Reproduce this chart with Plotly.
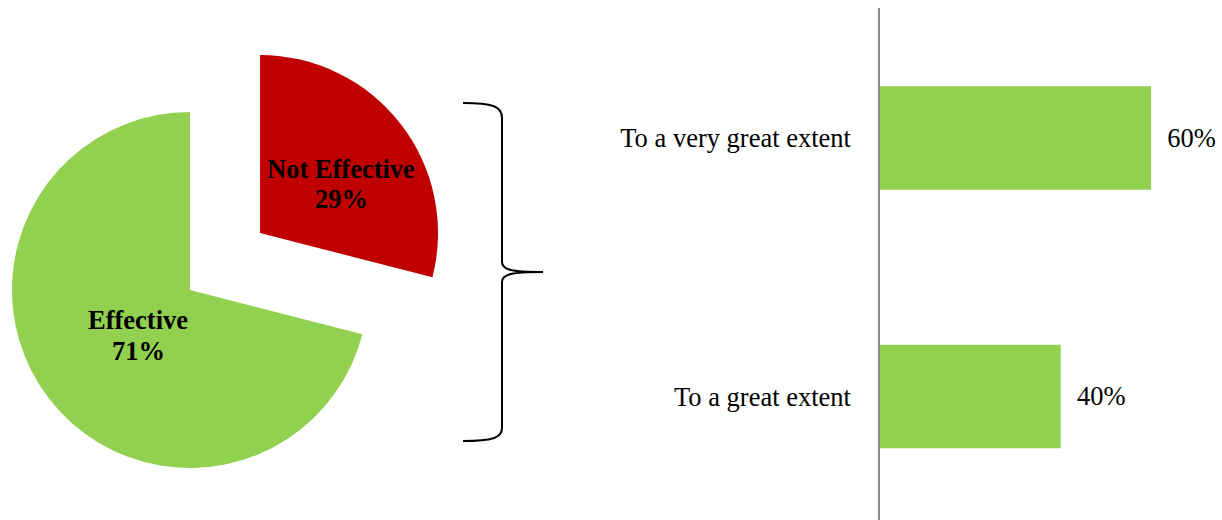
import plotly.graph_objects as go

W, H = 1222, 520

# ---- data ----
pie_labels = ["Not Effective", "Effective"]
pie_values = [29, 71]
pie_colors = ["#C00000", "#92D050"]

bar_categories = ["To a great extent", "To a very great extent"]
bar_values = [40, 60]
bar_color = "#92D050"

FONT = "Liberation Serif, Times New Roman, serif"
FS = 26.5
TRANSPARENT = "rgba(0,0,0,0)"

def px_dom_x(c, r):
    return [(c - r) / W, (c + r) / W]

def px_dom_y(c, r):
    return [(H - c - r) / H, (H - c + r) / H]

def fx(x):
    return x / W

def fy(y):
    return 1 - y / H

R = 178
fig = go.Figure()

# main pie (Effective slice), centre (190, 290)
fig.add_trace(go.Pie(
    labels=pie_labels, values=pie_values, sort=False, direction="clockwise",
    marker=dict(colors=[TRANSPARENT, pie_colors[1]]),
    textinfo="none",
    domain=dict(x=px_dom_x(190, R), y=px_dom_y(290, R)),
    showlegend=False, hoverinfo="skip",
))
# exploded slice (Not Effective), centre shifted to (260, 233)
fig.add_trace(go.Pie(
    labels=pie_labels, values=pie_values, sort=False, direction="clockwise",
    marker=dict(colors=[pie_colors[0], TRANSPARENT]),
    textinfo="none",
    domain=dict(x=px_dom_x(260, R), y=px_dom_y(233, R)),
    showlegend=False, hoverinfo="skip",
))

fig.add_trace(go.Bar(
    y=bar_categories, x=bar_values, orientation="h",
    marker=dict(color=bar_color, line=dict(width=0)),
    width=0.40,
    text=[f"\u00a0\u00a0{v}%" for v in bar_values], textposition="outside",
    textfont=dict(family=FONT, size=FS, color="black"),
    cliponaxis=False, showlegend=False, hoverinfo="skip",
))

# pie labels (two lines each, Excel-like tight line spacing)
label_pos = {"Not Effective": (341, 169, 199), "Effective": (138, 320, 350.5)}
annotations = []
for lab, val in zip(pie_labels, pie_values):
    cx, y1, y2 = label_pos[lab]
    for txt, yy in ((f"<b>{lab}</b>", y1), (f"<b>{val}%</b>", y2)):
        annotations.append(dict(
            text=txt, x=fx(cx), y=fy(yy), xref="paper", yref="paper",
            xanchor="center", yanchor="middle", showarrow=False,
            font=dict(family=FONT, size=FS, color="black"),
        ))

# curly brace
def P(x, y):
    return f"{fx(x):.5f},{fy(y):.5f}"
brace = (f"M {P(463,103)} C {P(492,103)} {P(502,106)} {P(502,118)} "
         f"L {P(502,262)} C {P(502,270)} {P(512,272)} {P(543,272)} "
         f"C {P(512,272)} {P(502,274)} {P(502,282)} "
         f"L {P(502,428)} C {P(502,438)} {P(492,441)} {P(463,441)}")

fig.update_layout(
    width=W, height=H,
    margin=dict(l=0, r=0, t=0, b=0),
    paper_bgcolor="white", plot_bgcolor="white",
    font=dict(family=FONT, size=FS, color="black"),
    xaxis=dict(domain=[880 / W, 1], range=[0, 75.7], visible=False, fixedrange=True),
    yaxis=dict(domain=[0, 1 - 8 / H], range=[-0.478, 1.503], type="category",
               showline=True, linecolor="#8c8c8c", linewidth=1.5,
               ticks="", showgrid=False, zeroline=False,
               ticklabelstandoff=22, fixedrange=True,
               tickfont=dict(family=FONT, size=FS, color="black")),
    shapes=[dict(type="path", path=brace, xref="paper", yref="paper",
                 line=dict(color="black", width=2), fillcolor=TRANSPARENT)],
    annotations=annotations,
)

fig.write_html("out.html",
               config={"displayModeBar": False},
               post_script="document.body.style.margin='0px';document.body.style.overflow='hidden';")
